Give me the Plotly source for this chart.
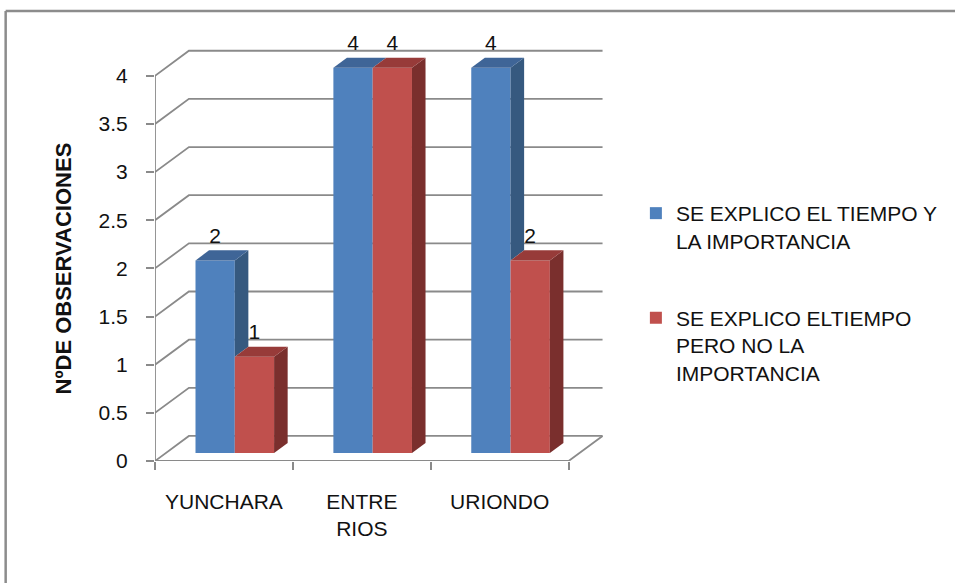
import plotly.graph_objects as go

# ---------------- data ----------------
categories = ["YUNCHARA", "ENTRE<br>RIOS", "URIONDO"]
series_names = [
    "SE EXPLICO EL TIEMPO Y<br>LA IMPORTANCIA",
    "SE EXPLICO ELTIEMPO<br>PERO NO LA<br>IMPORTANCIA",
]
explico_tiempo_importancia = [2, 4, 4]
explico_tiempo_no_importancia = [1, 4, 2]
y_ticks = [0, 0.5, 1, 1.5, 2, 2.5, 3, 3.5, 4]
y_tick_text = ["0", "0.5", "1", "1.5", "2", "2.5", "3", "3.5", "4"]

# ---------------- pseudo-3D geometry (axis units) ----------------
DX, DY = 0.246, 0.26        # depth of the back wall
F1, F2 = 0.32, 0.72         # bar front / back depth fractions
BW = 0.285                  # bar width
FONT = "Liberation Sans"
GRID = "#8a8a8a"
TXT = "#111111"

front_cols = ["#4F81BD", "#C0504D"]
side_cols = ["#36597F", "#7A2F2D"]
top_cols = ["#3F6597", "#973B39"]

series = [explico_tiempo_importancia, explico_tiempo_no_importancia]
xs = list(range(len(categories)))
base = F1 * DY
shiftx = F1 * DX
ddx, ddy = (F2 - F1) * DX, (F2 - F1) * DY
offsets = [-BW + shiftx, shiftx]

# plot area: x from -0.5 (px 155) to 2.8 (px 612); y from 0 (px 461) to 4.6 (px 18)
PLOT_W = 457.0
PLOT_H = 443.0


def py(p):
    """pixel row -> paper y"""
    return (461 - p) / PLOT_H


def px(p):
    """pixel column -> paper x"""
    return (p - 155) / PLOT_W


fig = go.Figure()

# front faces
for k, vals in enumerate(series):
    fig.add_trace(go.Bar(
        x=xs, y=vals, base=[base] * len(vals), width=BW, offset=offsets[k],
        marker=dict(color=front_cols[k], line=dict(width=0)),
        name=series_names[k], legendgroup=f"g{k}", hoverinfo="skip",
    ))

# side and top faces
for k, vals in enumerate(series):
    for i, v in enumerate(vals):
        xl = xs[i] + offsets[k]
        xr = xl + BW
        top = base + v
        low = base
        if k + 1 < len(series):
            nv = series[k + 1][i]
            low = max(base, base + nv)
        if low < top:
            fig.add_trace(go.Scatter(
                x=[xr, xr, xr + ddx, xr + ddx, xr],
                y=[low, top, top + ddy, low + ddy, low],
                fill="toself", fillcolor=side_cols[k], mode="lines",
                line=dict(width=0, color=side_cols[k]),
                showlegend=False, hoverinfo="skip"))
        fig.add_trace(go.Scatter(
            x=[xl, xr, xr + ddx, xl + ddx, xl],
            y=[top, top, top + ddy, top + ddy, top],
            fill="toself", fillcolor=top_cols[k], mode="lines",
            line=dict(width=0, color=top_cols[k]),
            showlegend=False, hoverinfo="skip"))

# data labels
for k, vals in enumerate(series):
    fig.add_trace(go.Scatter(
        x=[xs[i] + offsets[k] + BW / 2 for i in range(len(vals))],
        y=[base + v + 0.24 for v in vals],
        text=[str(v) for v in vals], mode="text",
        textfont=dict(family=FONT, size=21, color=TXT),
        cliponaxis=False, showlegend=False, hoverinfo="skip"))

# gridlines / walls as shapes (below bars)
x0, x1 = -0.5, len(categories) - 0.5
shapes = []
for v in y_ticks:
    shapes.append(dict(type="path", xref="x", yref="y", layer="below",
                       path=f"M {x0},{v} L {x0 + DX},{v + DY} L {x1 + DX},{v + DY}",
                       line=dict(color=GRID, width=1.8)))
shapes.append(dict(type="path", xref="x", yref="y", layer="below",
                   path=f"M {x0},0 L {x1},0 L {x1 + DX},{DY}",
                   line=dict(color=GRID, width=1.8)))
shapes.append(dict(type="line", xref="x", yref="y", layer="below",
                   x0=x0, y0=0, x1=x0, y1=max(y_ticks),
                   line=dict(color=GRID, width=1.8)))
# outer frame
shapes.append(dict(type="line", xref="paper", yref="paper",
                   x0=px(5), y0=py(11), x1=px(1000), y1=py(11),
                   line=dict(color="#8c8c8c", width=2.5)))
shapes.append(dict(type="line", xref="paper", yref="paper",
                   x0=px(5), y0=py(11), x1=px(5), y1=py(620),
                   line=dict(color="#8c8c8c", width=2.5)))

fig.update_layout(
    width=955, height=583,
    margin=dict(l=155, r=955 - 155 - int(PLOT_W), t=18, b=122),
    paper_bgcolor="white", plot_bgcolor="white",
    barmode="overlay",
    shapes=shapes,
    font=dict(family=FONT, size=21, color=TXT),
    legend=dict(x=px(638), y=py(193), xanchor="left", yanchor="top",
                valign="top", tracegroupgap=47,
                font=dict(family=FONT, size=21, color=TXT),
                bgcolor="rgba(0,0,0,0)"),
    xaxis=dict(range=[-0.5, 2.8], tickmode="array", tickvals=xs, ticktext=categories,
               ticks="", showline=False, showgrid=False, zeroline=False,
               ticklabelstandoff=26,
               tickfont=dict(family=FONT, size=21, color=TXT),
               minor=dict(tickvals=[x0 + i for i in range(len(categories) + 1)],
                          ticks="outside", ticklen=8, tickwidth=1.8,
                          tickcolor=GRID, showgrid=False)),
    yaxis=dict(range=[0, 4.6], tickmode="array", tickvals=y_ticks, ticktext=y_tick_text,
               ticks="outside", ticklen=8, tickwidth=1.8, tickcolor=GRID,
               showline=False, showgrid=False, zeroline=False,
               ticklabelstandoff=14,
               tickfont=dict(family=FONT, size=21, color=TXT)),
    annotations=[dict(text="<b>NºDE OBSERVACIONES</b>", textangle=-90,
                      xref="paper", yref="paper", x=px(63), y=py(268),
                      xanchor="center", yanchor="middle", showarrow=False,
                      font=dict(family=FONT, size=22, color=TXT))],
)

fig.write_html("out.html")
